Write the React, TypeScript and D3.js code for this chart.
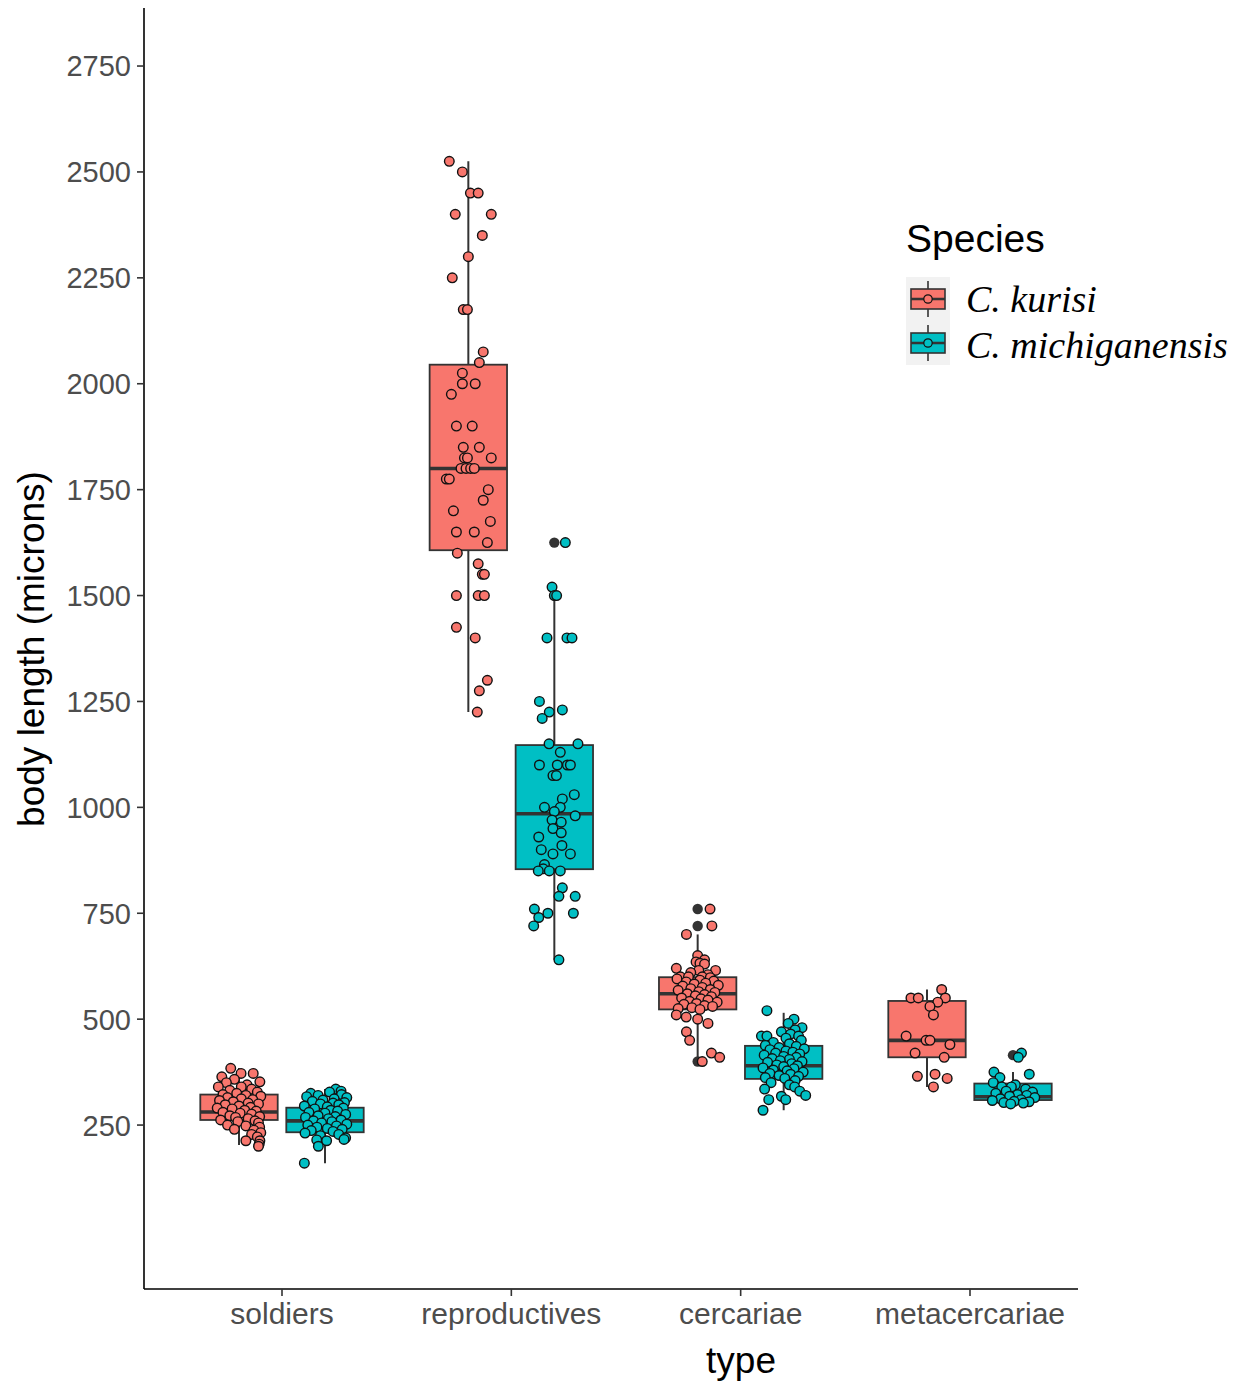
import React, { useEffect, useRef } from 'react';
import * as d3 from 'd3';

const categories = ['soldiers', 'reproductives', 'cercariae', 'metacercariae'];
const speciesNames = ['C. kurisi', 'C. michiganensis'];
const speciesColors = ['#F8766D', '#00BFC4'];
const yTicks = [250, 500, 750, 1000, 1250, 1500, 1750, 2000, 2250, 2500, 2750];

// box stats, one entry per category
const kurisiWhiskerLow = [203, 1225, 410, 340];
const kurisiQ1 = [262, 1607, 523, 410];
const kurisiMedian = [281, 1800, 560, 450];
const kurisiQ3 = [322, 2045, 599, 543];
const kurisiWhiskerHigh = [385, 2525, 700, 570];
const kurisiOutliers = [[], [], [760, 720, 400], []];

const michWhiskerLow = [160, 640, 285, 300];
const michQ1 = [233, 854, 359, 309];
const michMedian = [260, 985, 390, 317];
const michQ3 = [291, 1147, 437, 348];
const michWhiskerHigh = [335, 1520, 515, 375];
const michOutliers = [[], [1625], [], [415]];

// raw observations: [body length, jitter (-1..1)]
const kurisiSoldiers = [
  [384, -0.36], [372, 0.09], [372, 0.62], [364, -0.75], [352, 0.91], [358, -0.2], [350, -0.55], [345, 0.35],
  [340, -0.9], [340, 0.1], [335, 0.55], [332, -0.4], [328, 0.8], [325, -0.1], [322, -0.7], [320, 0.3],
  [318, 0.95], [315, -0.5], [312, 0.1], [310, 0.6], [308, -0.85], [305, -0.25], [302, 0.4], [300, 0.85],
  [298, -0.6], [295, 0.0], [292, 0.5], [290, -0.95], [288, -0.3], [285, 0.25], [283, 0.75], [280, -0.7],
  [278, 0.05], [276, 0.55], [272, -0.4], [270, 0.9], [268, -0.15], [265, 0.4], [262, -0.8], [260, 0.7],
  [258, -0.05], [255, 0.85], [250, -0.5], [248, 0.3], [245, 0.9], [240, -0.2], [238, 0.65], [232, 0.95],
  [228, 0.55], [222, 0.8], [213, 0.3], [213, 0.91], [205, 0.88], [200, 0.85],
];
const kurisiReproductives = [
  [2525, -0.83], [2500, -0.26], [2450, 0.09], [2450, 0.43], [2400, -0.57], [2400, 1.0], [2350, 0.61],
  [2300, 0.0], [2250, -0.7], [2175, -0.22], [2175, -0.04], [2075, 0.65], [2050, 0.48], [2025, -0.26],
  [2000, -0.26], [2000, 0.3], [1975, -0.74], [1900, -0.52], [1900, 0.17], [1850, -0.22], [1850, 0.48],
  [1825, -0.17], [1825, -0.04], [1825, 1.0], [1800, -0.32], [1800, -0.1], [1800, 0.1], [1800, 0.26],
  [1775, -0.96], [1775, -0.83], [1750, 0.87], [1725, 0.65], [1700, -0.65], [1675, 0.96], [1650, -0.52],
  [1650, 0.26], [1625, 0.83], [1600, -0.48], [1575, 0.43], [1550, 0.61], [1550, 0.7], [1500, -0.52],
  [1500, 0.43], [1500, 0.7], [1425, -0.52], [1400, 0.3], [1300, 0.83], [1275, 0.48], [1225, 0.39],
];
const kurisiCercariae = [
  [760, 0.54], [720, 0.62], [700, -0.49], [650, 0.0], [640, 0.3], [635, -0.07], [632, 0.1], [630, 0.3],
  [620, -0.93], [615, 0.05], [615, 0.78], [610, -0.3], [605, 0.45], [600, -0.75], [600, -0.4], [600, 0.2],
  [598, 0.55], [595, -0.9], [592, 0.1], [590, 0.7], [588, -0.5], [585, 0.35], [583, -0.15], [580, 0.9],
  [578, -0.65], [575, 0.2], [572, -0.3], [570, 0.55], [568, -0.85], [565, 0.05], [563, 0.75], [560, -0.45],
  [558, 0.3], [555, -0.1], [553, 0.6], [550, -0.7], [548, 0.15], [545, 0.45], [542, -0.35], [540, 0.85],
  [537, -0.05], [535, -0.6], [532, 0.3], [530, 0.65], [527, -0.25], [525, -0.85], [523, 0.1], [510, -0.93],
  [505, -0.5], [500, 0.0], [490, 0.45], [470, -0.49], [450, -0.35], [420, 0.6], [410, 0.96], [400, 0.2],
];
const kurisiMetacercariae = [
  [570, 0.64], [550, -0.7], [550, -0.38], [550, 0.8], [540, 0.47], [530, 0.13], [510, 0.28], [460, -0.91],
  [450, -0.04], [450, 0.13], [440, 1.0], [420, -0.52], [410, 0.75], [370, 0.35], [365, -0.42], [360, 0.88],
  [340, 0.28],
];

const michSoldiers = [
  [335, 0.47], [330, 0.7], [328, 0.2], [325, -0.62], [322, 0.72], [320, -0.3], [317, -0.8], [315, 0.95],
  [312, 0.4], [309, -0.09], [306, -0.55], [303, 0.85], [302, 0.35], [300, -0.2], [298, 0.6], [295, -0.9],
  [293, 0.1], [290, 0.8], [288, -0.45], [285, 0.25], [283, 0.55], [280, -0.7], [278, 0.0], [275, 0.9],
  [272, -0.3], [270, 0.45], [268, -0.85], [265, 0.15], [262, 0.7], [260, -0.5], [258, 0.3], [255, -0.15],
  [252, 0.95], [250, -0.75], [248, 0.5], [245, -0.35], [242, 0.1], [240, 0.75], [237, -0.6], [235, 0.35],
  [231, -0.87], [228, 0.6], [225, -0.2], [220, 0.9], [216, 0.83], [215, -0.36], [213, 0.07], [200, -0.29],
  [160, -0.9],
];
const michReproductives = [
  [1625, 0.48], [1520, -0.1], [1500, 0.0], [1500, 0.1], [1400, -0.32], [1400, 0.55], [1400, 0.77],
  [1250, -0.65], [1230, 0.35], [1225, -0.22], [1210, -0.53], [1150, -0.23], [1150, 1.03], [1130, 0.26],
  [1100, -0.65], [1100, 0.13], [1100, 0.57], [1100, 0.7], [1075, -0.06], [1075, 0.09], [1030, 0.87],
  [1020, 0.35], [1000, -0.43], [1000, 0.26], [990, 0.0], [980, 0.91], [970, -0.1], [965, 0.3], [950, -0.06],
  [940, 0.3], [930, -0.68], [910, 0.33], [900, -0.57], [890, -0.06], [890, 0.7], [865, -0.43], [855, -0.48],
  [850, -0.7], [850, -0.22], [850, 0.26], [810, 0.35], [790, 0.2], [790, 0.91], [760, -0.87], [750, -0.28],
  [750, 0.83], [740, -0.68], [720, -0.9], [640, 0.2],
];
const michCercariae = [
  [520, -0.73], [500, 0.45], [490, 0.2], [480, 0.8], [475, 0.5], [470, -0.1], [465, 0.3], [460, -0.97],
  [460, -0.73], [460, 0.65], [455, 0.1], [450, 0.77], [445, -0.45], [442, 0.25], [438, -0.8], [436, 0.55],
  [433, -0.2], [430, 0.9], [428, -0.6], [425, 0.1], [422, 0.4], [420, -0.35], [418, 0.7], [415, -0.85],
  [412, 0.0], [410, 0.55], [407, -0.5], [405, 0.25], [402, -0.15], [400, 0.8], [398, -0.7], [395, 0.35],
  [392, -0.3], [390, 0.6], [388, 0.0], [385, -0.9], [383, 0.45], [380, -0.45], [378, 0.15], [375, 0.85],
  [372, -0.6], [370, 0.3], [367, -0.2], [365, 0.65], [362, -0.8], [360, 0.05], [355, 0.5], [350, -0.55],
  [345, 0.25], [340, 0.48], [335, -0.83], [330, 0.7], [320, 0.96], [318, -0.1], [310, 0.09], [310, -0.65],
  [285, -0.9],
];
const michMetacercariae = [
  [420, 0.37], [410, 0.23], [375, -0.83], [370, 0.71], [362, -0.57], [350, -0.86], [345, 0.1], [340, -0.49],
  [340, -0.07], [335, 0.55], [330, -0.3], [328, 0.85], [325, -0.75], [322, 0.2], [320, 0.6], [318, -0.15],
  [315, 0.95], [312, -0.55], [310, 0.35], [308, -0.9], [306, 0.05], [305, 0.7], [303, -0.4], [302, 0.45],
  [300, -0.1],
];

const kurisiPoints = [kurisiSoldiers, kurisiReproductives, kurisiCercariae, kurisiMetacercariae];
const michPoints = [michSoldiers, michReproductives, michCercariae, michMetacercariae];

const BoxJitterChart = () => {
  const svgRef = useRef<SVGSVGElement>(null);

  useEffect(() => {
    const svg = d3.select(svgRef.current);
    svg.selectAll('*').remove();

    const width = 1244;
    const height = 1388;
    const left = 144, right = 1078, top = 8, bottom = 1289;
    const sans = '"Liberation Sans", Arial, Helvetica, sans-serif';
    const ink = '#333333';

    const x = d3.scalePoint<string>().domain(categories).range([282, 970]);
    const y = d3.scaleLinear().domain([-137, 2887]).range([bottom, top]);
    const step = x.step();
    const dodge = step * 0.1875;
    const boxW = step * 0.375 * 0.9;
    const jitterHalf = step * 0.1;

    svg.attr('viewBox', `0 0 ${width} ${height}`);

    const groups = speciesNames.flatMap((name, s) =>
      categories.map((cat, i) => ({
        cat,
        s,
        cx: (x(cat) as number) + (s === 0 ? -dodge : dodge),
        lo: s === 0 ? kurisiWhiskerLow[i] : michWhiskerLow[i],
        q1: s === 0 ? kurisiQ1[i] : michQ1[i],
        med: s === 0 ? kurisiMedian[i] : michMedian[i],
        q3: s === 0 ? kurisiQ3[i] : michQ3[i],
        hi: s === 0 ? kurisiWhiskerHigh[i] : michWhiskerHigh[i],
        outliers: s === 0 ? kurisiOutliers[i] : michOutliers[i],
        points: s === 0 ? kurisiPoints[i] : michPoints[i],
      }))
    );

    // boxplot layer
    const box = svg.append('g');
    groups.forEach(g => {
      box.append('line')
        .attr('x1', g.cx).attr('x2', g.cx)
        .attr('y1', y(g.lo)).attr('y2', y(g.hi))
        .attr('stroke', ink).attr('stroke-width', 2);
      g.outliers.forEach(v => {
        box.append('circle')
          .attr('cx', g.cx).attr('cy', y(v)).attr('r', 5.2)
          .attr('fill', ink);
      });
      box.append('rect')
        .attr('x', g.cx - boxW / 2).attr('width', boxW)
        .attr('y', y(g.q3)).attr('height', y(g.q1) - y(g.q3))
        .attr('fill', speciesColors[g.s])
        .attr('stroke', ink).attr('stroke-width', 1.8);
      box.append('line')
        .attr('x1', g.cx - boxW / 2).attr('x2', g.cx + boxW / 2)
        .attr('y1', y(g.med)).attr('y2', y(g.med))
        .attr('stroke', ink).attr('stroke-width', 3.6);
    });

    // jittered points on top
    const pts = svg.append('g');
    groups.forEach(g => {
      pts.selectAll(null)
        .data(g.points)
        .enter()
        .append('circle')
        .attr('cx', d => g.cx + d[1] * jitterHalf)
        .attr('cy', d => y(d[0]))
        .attr('r', 4.8)
        .attr('fill', speciesColors[g.s])
        .attr('stroke', '#111')
        .attr('stroke-width', 1.4);
    });

    // axes
    const axes = svg.append('g');
    axes.append('line')
      .attr('x1', left).attr('x2', left).attr('y1', top).attr('y2', bottom)
      .attr('stroke', '#000').attr('stroke-width', 1.6);
    axes.append('line')
      .attr('x1', left).attr('x2', right).attr('y1', bottom).attr('y2', bottom)
      .attr('stroke', '#000').attr('stroke-width', 1.6);

    yTicks.forEach(t => {
      axes.append('line')
        .attr('x1', left - 7).attr('x2', left).attr('y1', y(t)).attr('y2', y(t))
        .attr('stroke', ink).attr('stroke-width', 1.6);
      axes.append('text')
        .attr('x', left - 13).attr('y', y(t)).attr('dy', '0.36em')
        .attr('text-anchor', 'end')
        .style('font-family', sans).style('font-size', '29px')
        .attr('fill', '#4D4D4D')
        .text(t);
    });

    categories.forEach(c => {
      axes.append('line')
        .attr('x1', x(c) as number).attr('x2', x(c) as number)
        .attr('y1', bottom).attr('y2', bottom + 7)
        .attr('stroke', ink).attr('stroke-width', 1.6);
      axes.append('text')
        .attr('x', x(c) as number).attr('y', 1324)
        .attr('text-anchor', 'middle')
        .style('font-family', sans).style('font-size', '30px')
        .attr('fill', '#4D4D4D')
        .text(c);
    });

    axes.append('text')
      .attr('x', 741).attr('y', 1373)
      .attr('text-anchor', 'middle')
      .style('font-family', sans).style('font-size', '37px')
      .attr('fill', '#000')
      .text('type');

    axes.append('text')
      .attr('transform', 'translate(44, 649) rotate(-90)')
      .attr('text-anchor', 'middle')
      .style('font-family', sans).style('font-size', '37px')
      .attr('fill', '#000')
      .text('body length (microns)');

    // legend
    const leg = svg.append('g');
    leg.append('text')
      .attr('x', 906).attr('y', 252)
      .style('font-family', sans).style('font-size', '39px')
      .attr('fill', '#000')
      .text('Species');
    leg.append('rect')
      .attr('x', 906).attr('y', 277).attr('width', 44).attr('height', 88)
      .attr('fill', '#F2F2F2');
    speciesNames.forEach((name, s) => {
      const cy = 299 + s * 44;
      const kx = 928;
      leg.append('line')
        .attr('x1', kx).attr('x2', kx).attr('y1', cy - 18).attr('y2', cy + 18)
        .attr('stroke', ink).attr('stroke-width', 1.6);
      leg.append('rect')
        .attr('x', kx - 17).attr('y', cy - 10).attr('width', 34).attr('height', 20)
        .attr('fill', speciesColors[s]).attr('stroke', ink).attr('stroke-width', 1.6);
      leg.append('line')
        .attr('x1', kx - 17).attr('x2', kx + 17).attr('y1', cy).attr('y2', cy)
        .attr('stroke', ink).attr('stroke-width', 2.6);
      leg.append('circle')
        .attr('cx', kx).attr('cy', cy).attr('r', 4.2)
        .attr('fill', speciesColors[s]).attr('stroke', '#111').attr('stroke-width', 1.2);
      leg.append('text')
        .attr('x', 966).attr('y', cy + 13 + s * 2)
        .style('font-family', '"Liberation Serif", "Times New Roman", serif')
        .style('font-style', 'italic')
        .style('font-size', '38px')
        .attr('fill', '#000')
        .text(name);
    });
  }, []);

  return (
    <svg
      ref={svgRef}
      width={1244}
      height={1388}
      style={{ position: 'absolute', left: 0, top: 0, background: '#fff' }}
    />
  );
};

export default function App() {
  return <BoxJitterChart />;
}
